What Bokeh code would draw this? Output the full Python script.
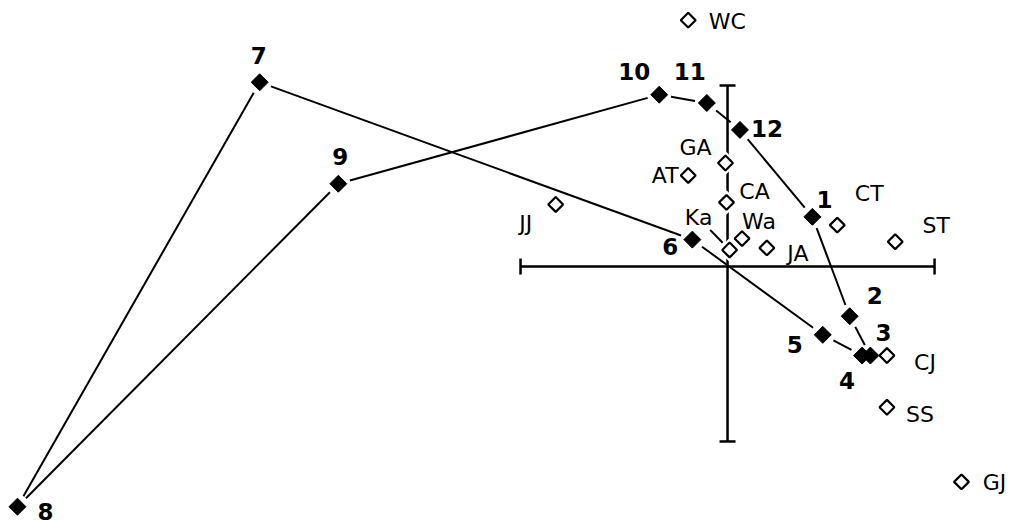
import math
from bokeh.plotting import figure
from bokeh.models import Range1d, ColumnDataSource
from bokeh.core.properties import value
from bokeh.embed import file_html
from bokeh.resources import INLINE

# Sequence points 1..12 (filled diamonds), joined in order and closed back to 1
step_labels = ["1", "2", "3", "4", "5", "6", "7", "8", "9", "10", "11", "12"]
step_x = [0.41, 0.59, 0.69, 0.65, 0.46, -0.17, -2.26, -3.43, -1.88, -0.33, -0.10, 0.06]
step_y = [0.24, -0.24, -0.43, -0.43, -0.33, 0.13, 0.89, -1.16, 0.40, 0.83, 0.79, 0.66]

# Site points (open diamonds)
site_labels = ["WC", "GA", "AT", "CA", "Ka", "Wa", "JA", "CT", "ST", "JJ", "CJ", "SS", "GJ"]
site_x = [-0.19, -0.01, -0.19, -0.005, 0.01, 0.07, 0.19, 0.53, 0.81, -0.83, 0.77, 0.77, 1.13]
site_y = [1.19, 0.50, 0.44, 0.31, 0.08, 0.135, 0.09, 0.20, 0.12, 0.30, -0.43, -0.68, -1.04]

# Reference cross (axis extents)
h_axis = [-1.0, 1.0]
v_axis = [-0.845, 0.875]

# label placement (screen pixels, y downward)
step_dx = [12, 25, 13, -15, -28, -22, -1, 28, 2, -25, -17, 27]
step_dy = [-17, -21, -23, 25, 10, 7, -27, 5, -27, -23, -31, -1]
site_dx = [39, -30, -23, 28, -31, 17, 31, 32, 41, -30, 38, 33, 33]
site_dy = [1, -16, 0, -11, -32, -17, 6, -32, -16, 19, 7, 7, 1]

W, H = 1015, 524
X0, X1 = -3.512, 1.391
Y0, Y1 = -1.246, 1.285
PX = W / (X1 - X0)  # pixels per data unit (same on both axes)

p = figure(width=W, height=H, output_backend="svg", toolbar_location=None,
           x_range=Range1d(X0, X1), y_range=Range1d(Y0, Y1),
           x_axis_type=None, y_axis_type=None, min_border=0)
p.grid.visible = False
p.outline_line_color = None
p.background_fill_color = "white"
p.border_fill_color = "white"

# reference cross with end caps
cap = 8 / PX
p.segment(x0=[h_axis[0], 0], y0=[0, v_axis[0]],
          x1=[h_axis[1], 0], y1=[0, v_axis[1]], line_color="black", line_width=2.5)
p.segment(x0=[h_axis[0], h_axis[1], -cap, -cap], y0=[-cap, -cap, v_axis[0], v_axis[1]],
          x1=[h_axis[0], h_axis[1], cap, cap], y1=[cap, cap, v_axis[0], v_axis[1]],
          line_color="black", line_width=2.5)

# connecting path, stopped short of each marker
gap = 12 / PX
sx0, sy0, sx1, sy1 = [], [], [], []
n = len(step_x)
for i in range(n):
    ax, ay = step_x[i], step_y[i]
    bx, by = step_x[(i + 1) % n], step_y[(i + 1) % n]
    d = math.hypot(bx - ax, by - ay)
    ux, uy = (bx - ax) / d, (by - ay) / d
    sx0.append(ax + ux * gap); sy0.append(ay + uy * gap)
    sx1.append(bx - ux * gap); sy1.append(by - uy * gap)
p.segment(x0=sx0, y0=sy0, x1=sx1, y1=sy1, line_color="black", line_width=2)

# leader from the "Ka" label to its point
k = site_labels.index("Ka")
lx, ly = site_dx[k], -site_dy[k]
ln = math.hypot(lx, ly)
p.segment(x0=[site_x[k] + lx / ln * 10 / PX], y0=[site_y[k] + ly / ln * 10 / PX],
          x1=[site_x[k] + lx / ln * 28 / PX], y1=[site_y[k] + ly / ln * 28 / PX],
          line_color="black", line_width=2)

sites = ColumnDataSource(dict(x=site_x, y=site_y, t=site_labels, dx=site_dx, dy=site_dy))
steps = ColumnDataSource(dict(x=step_x, y=step_y, t=step_labels, dx=step_dx, dy=step_dy))

# white halo around open diamonds, then the diamonds
p.scatter("x", "y", source=sites, marker="square", angle=math.pi / 4, size=17,
          fill_color="white", line_color=None)
p.scatter("x", "y", source=sites, marker="square", angle=math.pi / 4, size=10.5,
          fill_color="white", line_color="black", line_width=2.2)
p.scatter("x", "y", source=steps, marker="square", angle=math.pi / 4, size=12,
          fill_color="black", line_color="black", line_width=1)

p.text("x", "y", text="t", source=sites, x_offset="dx", y_offset="dy",
       text_font=value("DejaVu Sans"), text_font_size="22px", text_color="black",
       text_align="center", text_baseline="middle")
p.text("x", "y", text="t", source=steps, x_offset="dx", y_offset="dy",
       text_font=value("DejaVu Sans"), text_font_size="23px", text_font_style="bold",
       text_color="black", text_align="center", text_baseline="middle")

open("out.html", "w").write(file_html(p, INLINE))
